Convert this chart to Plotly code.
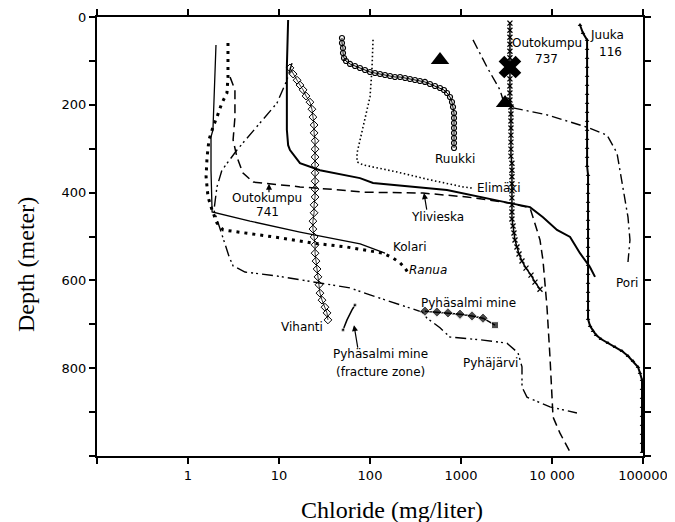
import numpy as np
import plotly.graph_objects as go

# ---------------- data (chloride mg/l, depth m) ----------------
kolari_cl = [2.03, 1.93, 1.88, 1.79, 1.79, 1.84, 4.8, 17, 47, 78, 146]
kolari_d = [64, 189, 257, 273, 349, 444, 465, 490, 508, 517, 538]

pyhajarvi_cl = [13.9, 12.2, 9.5, 3.45, 2.36, 2.08, 1.93, 2.15, 2.5, 2.85, 3.13, 4.23, 9.5,
                23.6, 60, 100, 275, 373, 423, 588, 756, 1745, 3200, 4230, 4680, 4680,
                5310, 9500, 18800]
pyhajarvi_d = [105, 144, 196, 303, 349, 387, 440, 470, 510, 548, 567, 581, 590,
               604, 617, 633, 663, 672, 686, 708, 729, 736, 743, 765, 797, 843,
               866, 888, 902]

ranua_cl = [2.75, 2.75, 2.75, 2.68, 2.36, 2.08, 1.88, 1.70, 1.62, 1.58, 1.66, 1.84, 2.08,
            2.43, 4.45, 10.3, 23.6, 55.9, 139, 179, 214, 243, 262]
ranua_d = [59, 105, 137, 173, 196, 228, 251, 280, 319, 364, 410, 440, 469,
           485, 492, 503, 515, 524, 538, 549, 560, 572, 583]

o741_cl = [2.9, 3.28, 3.28, 3.13, 3.45, 4.0, 5.2, 17, 46.8, 84, 382, 1164, 3450, 5730,
           6180, 7380, 7960, 8810, 9500, 10000, 10260, 12240, 15800]
o741_d = [137, 166, 228, 280, 319, 355, 376, 387, 394, 399, 401, 410, 424, 435,
          456, 508, 554, 661, 774, 850, 911, 948, 991]

yli_cl = [12.6, 12.2, 12.2, 12.6, 13.2, 15, 17, 28.2, 77.6, 108, 701, 3450, 5730, 7960,
          11350, 15800, 20300, 26200, 29700]
yli_d = [7, 114, 257, 292, 303, 319, 333, 349, 367, 378, 394, 424, 433, 456,
         485, 501, 538, 570, 592]

vih_cl = [13.2, 14.3, 15.8, 17.0, 18.4, 19.8, 21.9, 23.0, 23.6, 24.3, 24.3, 24.9, 24.9,
          24.9, 24.9, 24.9, 24.9, 24.9, 24.9, 24.3, 24.3, 23.6, 23.6, 24.3, 24.9, 24.9,
          25.5, 26.2, 26.8, 27.5, 28.2, 29.7, 32.0, 33.7, 34.5]
vih_d = [116, 130, 144, 155, 166, 180, 194, 210, 228, 246, 264, 282, 301,
         319, 337, 355, 374, 392, 410, 428, 446, 465, 483, 501, 519, 538,
         556, 574, 592, 610, 629, 645, 661, 674, 690]

ruk_cl = [49.2, 49.2, 50.5, 50.5, 51.8, 54.5, 60.3, 68.4, 77.6, 88.1, 100, 113.5, 128.8,
          146.2, 166, 188, 214, 243, 275, 312, 354, 402, 456, 518, 588, 650, 702, 757,
          796, 817, 838, 838, 838, 838, 838, 838, 838, 838]
ruk_d = [47.8, 59.2, 70.6, 82, 93.4, 100.2, 107, 111.6, 116.2, 120.7, 125.3, 127.6, 129.8,
         132.1, 134.4, 136.7, 136.7, 139, 141.2, 143.5, 145.8, 148, 152.6, 157.2, 161.7,
         166.3, 173.1, 182.2, 193.6, 205, 218.7, 230, 241.5, 252.9, 264.2, 275.6, 287, 298.4]

eli_cl = [108, 105, 100, 90, 84, 75.7, 72, 72, 84, 198, 456, 1052, 1355]
eli_d = [52, 121, 182, 223, 257, 292, 310, 330, 337, 353, 371, 387, 390]

pori_cl = [1355, 1930, 2680, 2900, 3730, 8810, 24300, 40200, 51800, 60300, 68400, 71900, 68400]
pori_d = [52, 114, 166, 189, 207, 223, 251, 269, 310, 387, 456, 508, 558]

o737_cl = [3450, 3450, 3450, 3450, 3450, 3450, 3450, 3450, 3450, 3450, 3450, 3450,
           3540, 3540, 3540, 3540, 3540, 3540, 3540, 3540,
           3630, 3630, 3630, 3630, 3630, 3630, 3630, 3630, 3630,
           3730, 3820, 3920, 4120, 4340, 4680, 5180, 5880, 6500, 7380]
o737_d = [14, 30, 46, 62, 78, 93, 109, 125, 141, 157, 173, 189,
          205, 221, 237, 253, 269, 285, 301, 317,
          333, 349, 364, 380, 396, 412, 428, 444, 460,
          476, 492, 508, 524, 540, 556, 572, 588, 604, 620]

juuka_cl = [20300, 21900, 24300, 24300, 24300, 24300, 24300, 24300, 24300, 24300, 24300,
            24300, 24300, 24300, 24300, 24300, 24300, 24900, 24900, 24900, 24900, 24900,
            24900, 24900, 24900, 24900, 24900, 24900, 24900, 24900, 24900, 24900, 24900,
            24900, 26200, 28200, 30500, 34500, 41200, 49200, 58700, 68400, 77600, 88100,
            92700, 97500, 97500, 97500, 97500, 97500, 97500, 97500, 97500, 97500]
juuka_d = [18.2, 36.4, 52.4, 72.9, 93.4, 113.9, 134.4, 154.9, 175.4, 195.9, 216.4,
           236.9, 257.4, 277.9, 298.4, 318.9, 339.4, 359.9, 380.4, 400.9, 421.4, 441.9,
           462.4, 482.9, 503.4, 523.9, 544.4, 564.9, 585.4, 605.9, 626.4, 646.9, 667.4,
           687.9, 703.9, 715.3, 724.4, 733.5, 742.6, 751.7, 760.9, 772.3, 783.6, 797.3,
           811, 826.9, 847.4, 867.9, 888.4, 908.9, 929.4, 949.9, 970.4, 990.9]

pm_cl = [402, 544, 719, 975, 1321, 1745, 2365]
pm_d = [670, 672, 674, 677, 681, 686, 702]

fz_cl = [50.5, 55.9, 63.4, 68.4]
fz_d = [713, 690, 667, 656]

tri_cl = [588, 3050]
tri_d = [98, 196]
cross_cl = [3450]
cross_d = [114]

x_tickvals = [0.1, 1, 10, 100, 1000, 10000, 100000]
x_ticktext = ["", "1", "10", "100", "1000", "10 000", "100000"]
y_tickvals = [0, 100, 200, 300, 400, 500, 600, 700, 800, 900, 1000]
y_ticktext = ["0", "", "200", "", "400", "", "600", "", "800", "", ""]

# labels: text, chloride, depth
labels = [
    ("Outokumpu", 7.4, 412), ("741", 7.4, 444),
    ("Ylivieska", 545, 456), ("Elimäki", 2620, 390),
    ("Ruukki", 860, 324), ("Outokumpu", 8810, 59), ("737", 8600, 96),
    ("Juuka", 40200, 41), ("116", 43400, 80),
    ("Kolari", 275, 524), ("<i>Ranua</i>", 433, 576),
    ("Vihanti", 17.9, 706), ("Pyhäsalmi mine", 1194, 651),
    ("Pyhäsalmi mine", 129, 768), ("(fracture zone)", 129, 809),
    ("Pyhäjärvi", 2085, 788), ("Pori", 66700, 606),
]
# arrows: tip chloride, tip depth, tail offset px (dx, dy)
arrows = [(7.76, 380, 0, 10), (392, 401, 3, 18), (66.7, 702, 4, 24)]

K = "black"
fig = go.Figure()


def line(x, y, dash="solid", width=1.5, mode="lines", marker=None):
    fig.add_trace(go.Scatter(x=x, y=y, mode=mode, showlegend=False,
                             line=dict(color=K, width=width, dash=dash),
                             marker=marker or {}))


line(kolari_cl, kolari_d, width=1.3)
line(pyhajarvi_cl, pyhajarvi_d, dash="11px,4px,2px,3px,2px,4px", width=1.4)
line(ranua_cl, ranua_d, dash="3px,5px", width=3)
line(o741_cl, o741_d, dash="9px,5px", width=1.5)
line(yli_cl, yli_d, width=2)
line(eli_cl, eli_d, dash="1.5px,2.5px", width=1.6)
line(pori_cl, pori_d, dash="10px,4px,2px,4px", width=1.4)
line(vih_cl, vih_d, width=0.8, mode="lines+markers",
     marker=dict(symbol="diamond-open", size=6, color=K, line=dict(width=1, color=K)))
line(ruk_cl, ruk_d, width=1, mode="lines+markers",
     marker=dict(symbol="circle-open", size=5, color=K, line=dict(width=1.2, color=K)))
line(o737_cl, o737_d, width=1.5, mode="lines+markers",
     marker=dict(symbol="x-thin", size=5, color=K, line=dict(width=1.3, color=K)))
line(juuka_cl, juuka_d, width=2, mode="lines+markers",
     marker=dict(symbol="triangle-up", size=4, color=K))
line(pm_cl, pm_d, width=1.5, mode="lines+markers",
     marker=dict(symbol=["diamond"] * 6 + ["square"], size=[8] * 6 + [7], color=K))
line(fz_cl, fz_d, width=1.5, mode="lines+markers",
     marker=dict(symbol="circle", size=[4, 0, 0, 4], color=K))
fig.add_trace(go.Scatter(x=tri_cl, y=tri_d, mode="markers", showlegend=False,
                         marker=dict(symbol="triangle-up", size=16, color=K)))
fig.add_trace(go.Scatter(x=cross_cl, y=cross_d, mode="markers", showlegend=False,
                         marker=dict(symbol="x", size=20, color=K)))

lab_font = dict(family="DejaVu Sans", size=12, color=K)
for t, xv, yv in labels:
    fig.add_annotation(x=np.log10(xv), y=yv, text=t, showarrow=False,
                       xanchor="center", yanchor="middle", font=lab_font)
for xv, yv, dx, dy in arrows:
    fig.add_annotation(x=np.log10(xv), y=yv, text="", showarrow=True, ax=dx, ay=dy,
                       arrowhead=2, arrowsize=1, arrowwidth=1.2, arrowcolor=K)

fig.add_annotation(xref="paper", yref="paper", x=0.54, y=-0.122, showarrow=False,
                   text="Chloride (mg/liter)", xanchor="center", yanchor="middle",
                   font=dict(family="Liberation Serif", size=24, color=K))
fig.add_annotation(xref="paper", yref="paper", x=-0.130, y=0.435, showarrow=False,
                   text="Depth (meter)", textangle=-90, xanchor="center", yanchor="middle",
                   font=dict(family="Liberation Serif", size=24, color=K))

axis_common = dict(showline=True, linecolor=K, linewidth=2, mirror="ticks",
                   ticks="outside", ticklen=6, tickwidth=1.5, tickcolor=K,
                   showgrid=False, zeroline=False, automargin=False,
                   tickfont=dict(family="DejaVu Sans", size=13, color=K))
fig.update_xaxes(type="log", range=[-1, 5], tickmode="array", tickvals=x_tickvals,
                 ticktext=x_ticktext, **axis_common)
fig.update_yaxes(range=[1000, 0], tickmode="array", tickvals=y_tickvals,
                 ticktext=y_ticktext, **axis_common)
# page body has an 8px margin, so the figure is shrunk and margins offset by 8px
fig.update_layout(width=667, height=514, margin=dict(l=89, r=32, t=9, b=66),
                  plot_bgcolor="white", paper_bgcolor="white")
fig.write_html("out.html")
